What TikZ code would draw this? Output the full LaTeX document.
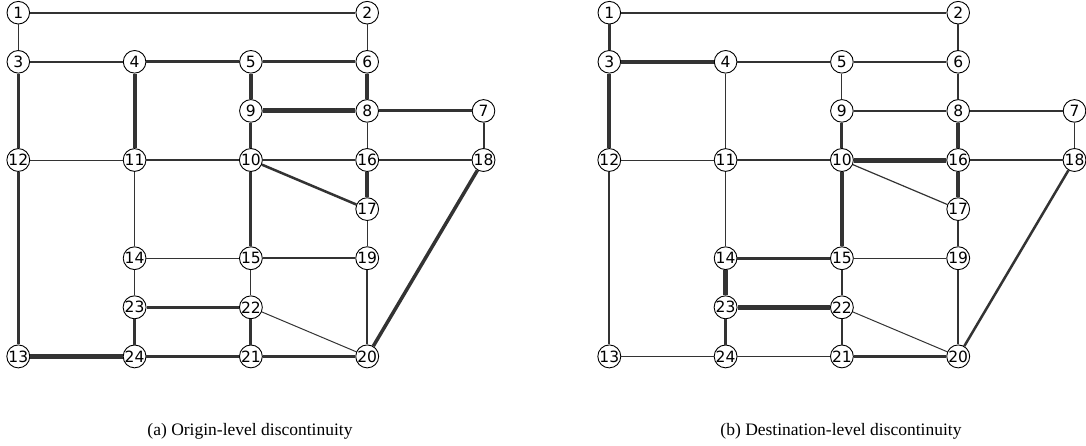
\documentclass[tikz,border=0pt]{standalone}
\usepackage{fontspec}
\setmainfont{Liberation Serif}
\newfontfamily\labelfont{DejaVu Sans}
\definecolor{linkcol}{RGB}{51,51,51}
\begin{document}
\begin{tikzpicture}[x=1pt,y=-1pt,
  vtx/.style={circle,draw=black,line width=0.9pt,fill=white,inner sep=0pt,
              minimum size=22.6pt,font=\labelfont\fontsize{15.5}{15.5}\selectfont},
  link/.style={draw=linkcol,line width=#1pt},
  caption/.style={font=\fontsize{17.5}{20}\selectfont}]
\useasboundingbox (0,0) rectangle (1086,445);

% grid positions of the 24 zones (column, row)
\def\zones{1/0/0,2/3/0,3/0/1,4/1/1,5/2/1,6/3/1,9/2/2,8/3/2,7/4/2,
  12/0/3,11/1/3,10/2/3,16/3/3,18/4/3,17/3/4,14/1/5,15/2/5,19/3/5,
  23/1/6,22/2/6,13/0/7,24/1/7,21/2/7,20/3/7}

% panel (a): nodes
\foreach \n/\c/\r in \zones
  \node[vtx] (a\n) at ({18.3+116.3*\c},{12.7+49.1*\r}) {\n};
% panel (b): nodes
\foreach \n/\c/\r in \zones
  \node[vtx] (b\n) at ({609.3+116.3*\c},{12.7+49.1*\r}) {\n};

% panel (a): links with widths
\foreach \u/\v/\w in {1/2/1.8,1/3/1.6,2/6/1.0,3/4/1.9,3/12/3.0,4/5/3.0,4/11/4.0,
  5/6/3.0,5/9/4.0,6/8/4.0,7/8/3.0,7/18/2.0,8/9/5.0,8/16/0.9,9/10/3.0,
  10/11/1.5,10/15/3.0,10/16/2.0,10/17/2.5,11/12/1.0,11/14/1.5,12/13/2.5,
  13/24/4.5,14/15/1.2,14/23/1.0,15/19/2.0,15/22/0.9,16/17/3.5,16/18/2.0,
  17/19/1.0,18/20/3.5,19/20/2.0,20/21/2.5,20/22/1.0,21/22/3.0,21/24/2.5,
  22/23/3.0,23/24/3.0}
  \draw[link=\w] (a\u) -- (a\v);

% panel (b): links with widths
\foreach \u/\v/\w in {1/2/1.8,1/3/3.0,2/6/2.0,3/4/4.0,3/12/4.0,4/5/2.5,4/11/1.0,
  5/6/1.6,5/9/1.0,6/8/1.6,7/8/2.0,7/18/1.6,8/9/2.0,8/16/3.5,9/10/3.0,
  10/11/2.0,10/15/3.5,10/16/5.0,10/17/1.2,11/12/1.0,11/14/1.2,12/13/2.0,
  13/24/1.0,14/15/3.0,14/23/5.0,15/19/1.0,15/22/2.5,16/17/3.5,16/18/1.6,
  17/19/1.5,18/20/2.5,19/20/1.6,20/21/3.0,20/22/1.0,21/22/2.0,21/24/1.0,
  22/23/5.0,23/24/3.5}
  \draw[link=\w] (b\u) -- (b\v);

\node[caption] (capa) at (250,431) {(a) Origin-level discontinuity};
\node[caption] (capb) at (841,431) {(b) Destination-level discontinuity};
\end{tikzpicture}
\end{document}
